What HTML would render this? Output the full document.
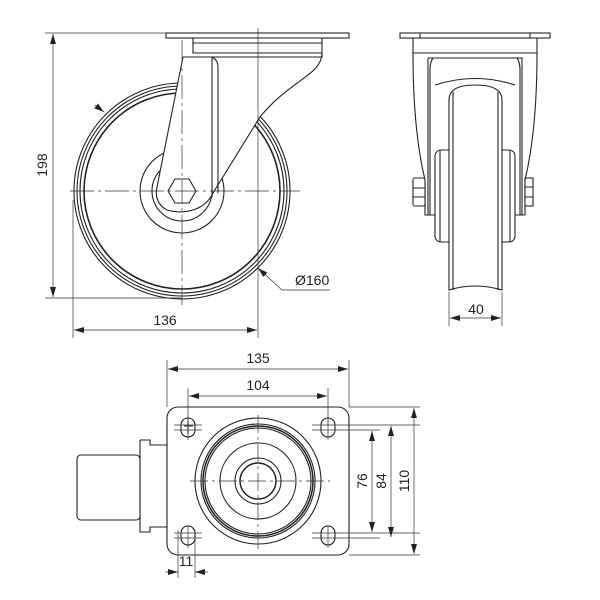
<!DOCTYPE html>
<html><head><meta charset="utf-8"><style>
html,body{margin:0;padding:0;background:#fff}
svg{display:block}
text{font-family:"Liberation Sans",sans-serif;font-size:14px;fill:#222}
</style></head><body>
<svg width="600" height="600" viewBox="0 0 600 600" xmlns="http://www.w3.org/2000/svg">
<defs>
<marker id="a" viewBox="0 0 10 6" refX="10" refY="3" markerWidth="10" markerHeight="6" orient="auto-start-reverse" markerUnits="userSpaceOnUse"><path d="M0,0 L10,3 L0,6 z" fill="#222"/></marker>
</defs>
<g fill="none" stroke="#222" stroke-width="1.1">
<!-- SIDE VIEW -->
<circle cx="182" cy="191" r="108"/>
<circle cx="182" cy="191" r="105"/>
<circle cx="182" cy="191" r="102"/>
<circle cx="182" cy="191" r="98" stroke-width="1.6"/>
<circle cx="182" cy="191" r="42"/>
<circle cx="182" cy="191" r="30"/>
<rect x="166" y="33" width="183" height="5" fill="#fff"/>
<path d="M193,38 H322 V53 H193 Z M193,43 H322" fill="#fff"/>
<path d="M322,53 C322,75 290,80 260,117 L213,193 C205,210 185,215 167,210 C157,205 155,195 157,187 L183,57 H322 Z" fill="#fff"/>
<path d="M183,57 H212 Q218,60 218,67 V193"/>
<path d="M212,57 V197"/>
<polygon points="168,191 175,179 189,179 196,191 189,203 175,203" fill="#fff"/>
</g>
<g stroke="#333" stroke-width="0.7" fill="none">
<path d="M70,191 H300" stroke-dasharray="24,4,3,4"/>
<path d="M182,40 V305" stroke-dasharray="24,4,3,4"/>
<path d="M45,33 H166"/><path d="M45,298 H182"/>
<path d="M73,200 V338"/><path d="M258,28 V338"/>
<path d="M53,34 V297" marker-start="url(#a)" marker-end="url(#a)"/>
<path d="M74,330 H257" marker-start="url(#a)" marker-end="url(#a)"/>
<path d="M330,290 H282 L258,268" marker-end="url(#a)"/>
<path d="M95,105 L104,112" marker-end="url(#a)"/>
</g>
<text x="47" y="165" transform="rotate(-90 47 165)" text-anchor="middle">198</text>
<text x="165" y="325" text-anchor="middle">136</text>
<text x="295" y="285">Ø160</text>

<!-- FRONT VIEW -->
<g fill="none" stroke="#222" stroke-width="1.1">
<rect x="400" y="33" width="150" height="5"/>
<path d="M420,33 V38 M530,33 V38"/>
<path d="M413,38 H537 V53 H413 Z"/>
<path d="M413,53 Q413,130 425,180 V215 H525 V180 Q537,130 537,53"/>
<path d="M428,58 H522 V215 M428,58 V215"/>
<path d="M433,58 Q430,62 430,70 V215 M517,58 Q520,62 520,70 V215"/>
<path d="M435,85 Q475,72 515,85"/>
<rect x="435" y="150" width="80" height="92" rx="6" fill="#fff"/>
<path d="M440,150 V242 M510,150 V242"/>
<path d="M449,100 Q449,85 475,85 Q502,85 502,100 V290 Q475,282 449,290 Z" fill="#fff"/>
<path d="M453,92 V290 M498,92 V290"/>
<rect x="413" y="178" width="12" height="28" rx="2" fill="#fff"/>
<rect x="525" y="178" width="8" height="28" fill="#fff"/>
<path d="M525,187 H533 M525,197 H533 M413,188 H425 M413,197 H425"/>
</g>
<g stroke="#333" stroke-width="0.7" fill="none">
<path d="M449,292 V326"/><path d="M502,292 V326"/>
<path d="M450,318 H501" marker-start="url(#a)" marker-end="url(#a)"/>
</g>
<text x="476" y="314" text-anchor="middle">40</text>

<!-- BOTTOM VIEW -->
<g fill="none" stroke="#222" stroke-width="1.1">
<rect x="77" y="455" width="63" height="65" rx="4"/>
<path d="M140,440 H150 V445 H167 M140,440 V532 H150 V527 H167 M140,448 V524"/>
<rect x="167" y="407" width="182" height="148" rx="11" fill="#fff"/>
<circle cx="258" cy="481" r="63"/>
<circle cx="258" cy="481" r="57"/>
<circle cx="258" cy="481" r="55" stroke-width="1.5"/>
<circle cx="258" cy="481" r="53"/>
<circle cx="258" cy="481" r="38"/>
<circle cx="258" cy="481" r="23"/>
<circle cx="258" cy="481" r="18" stroke-width="1.5"/>
<rect x="181" y="418" width="14" height="19" rx="7"/>
<rect x="321" y="418" width="14" height="19" rx="7"/>
<rect x="181" y="526" width="14" height="19" rx="7"/>
<rect x="321" y="526" width="14" height="19" rx="7"/>
<path d="M184,426 H193 M188,421 V434"/>
</g>
<g stroke="#333" stroke-width="0.7" fill="none">
<path d="M190,481 H330 M258,415 V550" stroke-dasharray="18,4,3,4"/>
<path d="M174,425 H202 M174,430 H202 M174,533 H202 M174,538 H202"/>
<path d="M312,425 H420 M312,430 H380 M312,533 H420 M312,538 H380 M349,407 H420 M349,555 H420"/>
<path d="M188,417 V440 M188,525 V548 M328,417 V440 M328,525 V548"/>
<path d="M167,360 V407 M349,360 V407 M188,388 V425 M328,388 V425"/>
<path d="M168,369 H348" marker-start="url(#a)" marker-end="url(#a)"/>
<path d="M189,396 H327" marker-start="url(#a)" marker-end="url(#a)"/>
<path d="M372,431 V532" marker-start="url(#a)" marker-end="url(#a)"/>
<path d="M391,426 V537" marker-start="url(#a)" marker-end="url(#a)"/>
<path d="M414,408 V554" marker-start="url(#a)" marker-end="url(#a)"/>
<path d="M178,530 V578 M195,530 V578"/>
<path d="M165,572 H178" marker-end="url(#a)"/><path d="M208,572 H195" marker-end="url(#a)"/>
</g>
<text x="258" y="363" text-anchor="middle">135</text>
<text x="258" y="390" text-anchor="middle">104</text>
<text x="367" y="481" transform="rotate(-90 367 481)" text-anchor="middle">76</text>
<text x="386" y="481" transform="rotate(-90 386 481)" text-anchor="middle">84</text>
<text x="409" y="481" transform="rotate(-90 409 481)" text-anchor="middle">110</text>
<text x="186" y="566" text-anchor="middle">11</text>
</svg>
</body></html>
